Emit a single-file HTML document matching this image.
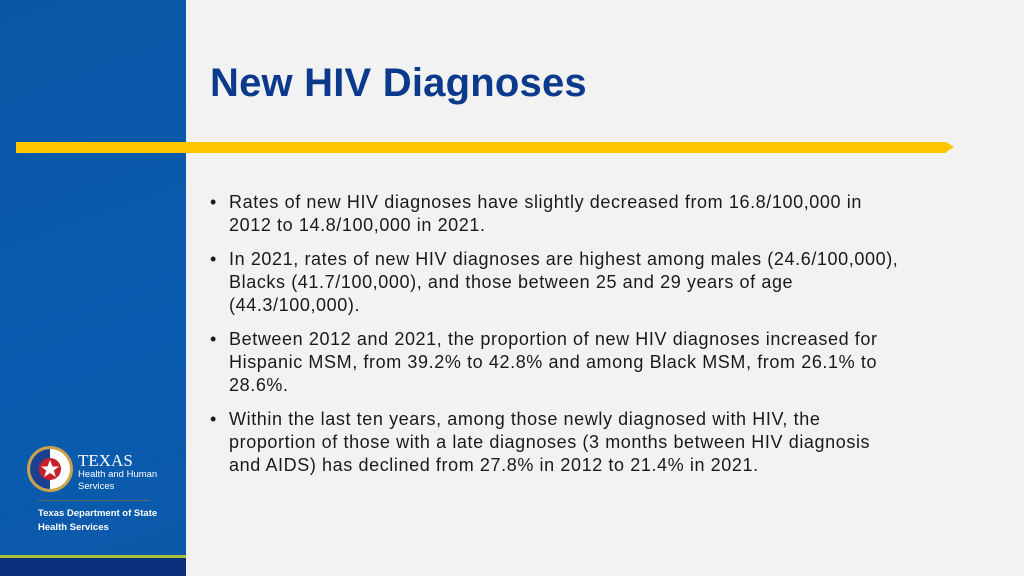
<!DOCTYPE html>
<html><head><meta charset="utf-8"><style>
body{margin:0;width:1024px;height:576px;overflow:hidden;background:#f2f2f2;font-family:"Liberation Sans",sans-serif;position:relative}
#side{position:absolute;left:0;top:0;width:186px;height:576px;background:linear-gradient(160deg,#0a56a6,#0a5cb0 60%,#0b59a9)}
#band{position:absolute;left:0;top:558px;width:186px;height:18px;background:#0b2f7c}
#gline{position:absolute;left:0;top:555px;width:186px;height:3px;background:#a8c23a}
#title{position:absolute;left:210px;top:61px;font-size:40px;font-weight:bold;color:#0b3a8c;letter-spacing:0.2px}
#bar{position:absolute;left:16px;top:142px;width:930px;height:11px;background:#ffc600}
#tip{position:absolute;left:946px;top:142px;width:0;height:0;border-top:5.5px solid transparent;border-bottom:5.5px solid transparent;border-left:8px solid #ffc600}
ul{position:absolute;left:210px;top:191px;margin:0;padding:0;list-style:none;font-size:18px;line-height:23px;color:#1a1a1a;white-space:nowrap;letter-spacing:0.6px}
li{position:relative;padding-left:19px;margin-bottom:11px}
li:before{content:"•";position:absolute;left:0}
#logo{position:absolute;left:26px;top:445px}
#tx{position:absolute;left:78px;top:451px;color:#fff;font-family:"Liberation Serif",serif;font-size:17px}
#hh{position:absolute;left:78px;top:469px;color:#fff;font-size:9.5px;line-height:12px}
#sep{position:absolute;left:38px;top:500px;width:112px;height:1px;background:#5d6b5a}
#dshs{position:absolute;left:38px;top:507px;color:#fff;font-size:9.5px;line-height:14px;font-weight:bold}
</style></head><body>
<div id="side"></div>
<div id="gline"></div>
<div id="band"></div>
<div id="title">New HIV Diagnoses</div>
<div id="bar"></div>
<div id="tip"></div>
<ul>
<li>Rates of new HIV diagnoses have slightly decreased from 16.8/100,000 in<br>2012 to 14.8/100,000 in 2021.</li>
<li>In 2021, rates of new HIV diagnoses are highest among males (24.6/100,000),<br>Blacks (41.7/100,000), and those between 25 and 29 years of age<br>(44.3/100,000).</li>
<li>Between 2012 and 2021, the proportion of new HIV diagnoses increased for<br>Hispanic MSM, from 39.2% to 42.8% and among Black MSM, from 26.1% to<br>28.6%.</li>
<li>Within the last ten years, among those newly diagnosed with HIV, the<br>proportion of those with a late diagnoses (3 months between HIV diagnosis<br>and AIDS) has declined from 27.8% in 2012 to 21.4% in 2021.</li>
</ul>
<svg id="logo" width="48" height="48" viewBox="0 0 48 48">
<circle cx="24" cy="24" r="23" fill="#c9a24a"/><circle cx="24" cy="24" r="20" fill="#fff"/>
<path d="M24 4 A20 20 0 0 0 24 44 Z" fill="#1d3f8f"/>
<circle cx="24" cy="24" r="11" fill="#c8202a"/>
<polygon points="24,15 26.5,21.5 33,21.5 27.8,25.5 29.8,32 24,28 18.2,32 20.2,25.5 15,21.5 21.5,21.5" fill="#fff"/>
</svg>
<div id="tx">TEXAS</div>
<div id="hh">Health and Human<br>Services</div>
<div id="sep"></div>
<div id="dshs">Texas Department of State<br>Health Services</div>
</body></html>
